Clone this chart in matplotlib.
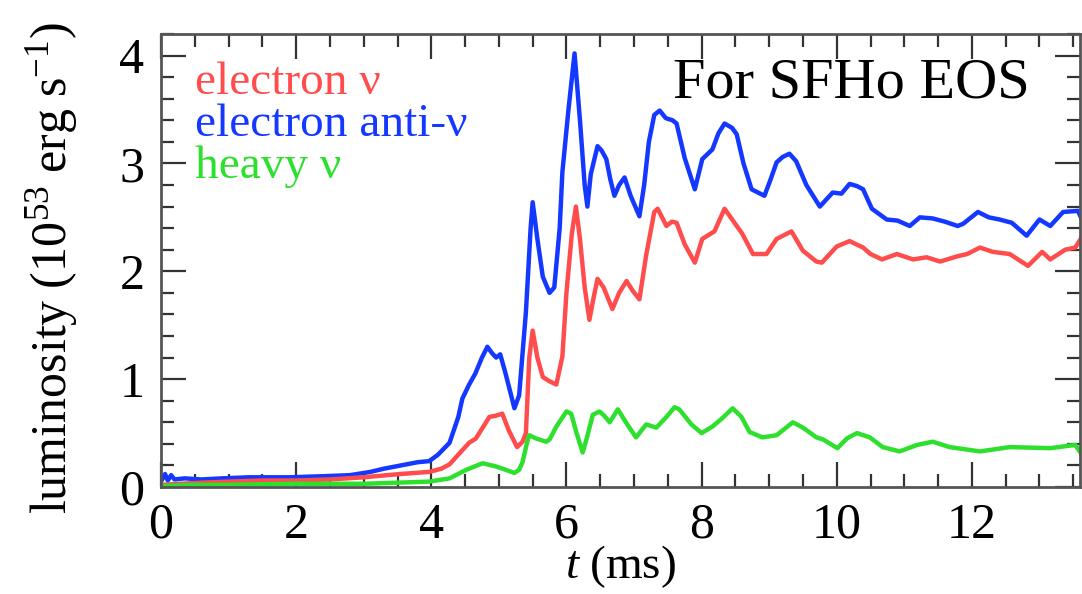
import matplotlib
matplotlib.use("Agg")
import matplotlib.pyplot as plt
from matplotlib.ticker import MultipleLocator

plt.rcParams["font.family"] = ["Liberation Serif", "DejaVu Serif"]
plt.rcParams["mathtext.fontset"] = "custom"
plt.rcParams["mathtext.rm"] = "Liberation Serif"
plt.rcParams["mathtext.it"] = "Liberation Serif:italic"

# luminosity in 1e53 erg/s, time in ms
t_blue = [0.0, 0.06, 0.1, 0.15, 0.2, 0.35, 0.6, 0.9, 1.3, 1.9, 2.4, 2.8, 3.1, 3.3,
          3.55, 3.8, 3.97, 4.1, 4.27, 4.4, 4.46, 4.56, 4.65, 4.75, 4.83, 4.9, 4.96,
          5.02, 5.1, 5.23, 5.3, 5.4, 5.47, 5.5, 5.57, 5.65, 5.75, 5.82, 5.9, 5.94,
          6.03, 6.12, 6.2, 6.27, 6.31, 6.36, 6.46, 6.52, 6.59, 6.65, 6.71, 6.78,
          6.86, 6.95, 7.08, 7.15, 7.22, 7.3, 7.38, 7.47, 7.57, 7.63, 7.75, 7.9,
          8.01, 8.16, 8.25, 8.34, 8.45, 8.52, 8.62, 8.74, 8.93, 9.02, 9.11, 9.2,
          9.3, 9.4, 9.55, 9.75, 9.94, 10.07, 10.19, 10.3, 10.39, 10.52, 10.74,
          10.9, 11.08, 11.23, 11.42, 11.6, 11.79, 11.87, 12.09, 12.25, 12.41,
          12.59, 12.81, 13.0, 13.16, 13.35, 13.57, 13.65]
L_blue = [0.05, 0.12, 0.06, 0.11, 0.07, 0.08, 0.07, 0.08, 0.09, 0.09, 0.10, 0.11, 0.14, 0.17,
          0.20, 0.23, 0.24, 0.30, 0.41, 0.65, 0.82, 0.95, 1.05, 1.20, 1.30, 1.24, 1.20,
          1.23, 1.05, 0.73, 0.85, 1.62, 2.40, 2.64, 2.30, 1.95, 1.80, 1.85, 2.40, 2.92,
          3.50, 4.02, 3.40, 2.80, 2.60, 2.90, 3.16, 3.12, 3.04, 2.85, 2.70, 2.80,
          2.87, 2.70, 2.51, 2.80, 3.20, 3.45, 3.49, 3.42, 3.40, 3.37, 3.05, 2.76,
          3.04, 3.13, 3.28, 3.37, 3.33, 3.27, 3.00, 2.76, 2.70, 2.85, 3.01, 3.06,
          3.09, 3.02, 2.80, 2.60, 2.73, 2.72, 2.81, 2.79, 2.76, 2.58, 2.48,
          2.47, 2.42, 2.50, 2.49, 2.46, 2.42, 2.44, 2.55, 2.50, 2.48,
          2.45, 2.33, 2.48, 2.42, 2.55, 2.56, 2.45]

t_red = [0.0, 0.3, 0.6, 1.0, 1.5, 2.0, 2.5, 3.0, 3.53, 3.97, 4.15, 4.27, 4.4, 4.56,
         4.66, 4.76, 4.86, 4.95, 5.05, 5.15, 5.27, 5.35, 5.4, 5.45, 5.5, 5.57, 5.65,
         5.75, 5.85, 5.94, 6.0, 6.08, 6.14, 6.2, 6.27, 6.34, 6.4, 6.46, 6.55, 6.68,
         6.78, 6.89, 6.98, 7.08, 7.18, 7.3, 7.35, 7.48, 7.56, 7.63, 7.75, 7.9, 8.01,
         8.19, 8.34, 8.52, 8.6, 8.76, 8.96, 9.11, 9.33, 9.5, 9.7, 9.78, 10.0, 10.19,
         10.39, 10.5, 10.67, 10.89, 11.13, 11.33, 11.53, 11.79, 11.93, 12.12, 12.31,
         12.56, 12.83, 13.04, 13.16, 13.38, 13.53, 13.65]
L_red = [0.02, 0.03, 0.04, 0.05, 0.06, 0.06, 0.07, 0.09, 0.12, 0.14, 0.17, 0.21, 0.30, 0.41,
         0.45, 0.55, 0.65, 0.66, 0.68, 0.52, 0.37, 0.42, 0.50, 1.20, 1.45, 1.20, 1.02,
         0.98, 0.95, 1.21, 1.80, 2.35, 2.60, 2.30, 1.85, 1.55, 1.75, 1.93, 1.85, 1.65,
         1.80, 1.91, 1.82, 1.74, 2.15, 2.55, 2.58, 2.42, 2.46, 2.45, 2.25, 2.08, 2.30,
         2.37, 2.58, 2.42, 2.35, 2.16, 2.16, 2.30, 2.37, 2.19, 2.09, 2.08, 2.23, 2.28,
         2.22, 2.16, 2.11, 2.16, 2.11, 2.13, 2.09, 2.14, 2.16, 2.22, 2.18,
         2.16, 2.05, 2.18, 2.11, 2.20, 2.22, 2.34]

t_green = [0.0, 0.5, 1.0, 2.0, 3.0, 3.5, 3.97, 4.27, 4.52, 4.76, 4.96, 5.1, 5.23, 5.3,
           5.35, 5.42, 5.45, 5.55, 5.7, 5.75, 5.85, 6.0, 6.07, 6.15, 6.24, 6.3, 6.39,
           6.49, 6.56, 6.64, 6.76, 6.9, 7.03, 7.18, 7.33, 7.48, 7.6, 7.67, 7.85, 8.0,
           8.16, 8.31, 8.46, 8.59, 8.71, 8.9, 9.11, 9.35, 9.5, 9.7, 9.8, 10.01, 10.15,
           10.3, 10.49, 10.68, 10.93, 11.19, 11.42, 11.67, 12.12, 12.56, 13.16, 13.53,
           13.65]
L_green = [0.01, 0.02, 0.02, 0.03, 0.03, 0.04, 0.05, 0.08, 0.16, 0.22, 0.19, 0.16, 0.13, 0.16,
           0.23, 0.42, 0.48, 0.45, 0.42, 0.44, 0.56, 0.70, 0.68, 0.50, 0.32, 0.45, 0.67,
           0.70, 0.66, 0.60, 0.72, 0.58, 0.46, 0.58, 0.55, 0.65, 0.74, 0.72, 0.58, 0.50,
           0.56, 0.64, 0.73, 0.65, 0.51, 0.46, 0.48, 0.60, 0.55, 0.46, 0.44, 0.36, 0.45,
           0.50, 0.46, 0.37, 0.33, 0.39, 0.42, 0.37, 0.33, 0.37, 0.36, 0.39,
           0.28]

labels = ["electron \u03bd", "electron anti-\u03bd", "heavy \u03bd"]
RED, BLUE, GREEN = "#ff4d4d", "#1438ff", "#2ee02e"

fig = plt.figure(figsize=(10.82, 5.94), dpi=100)
ax = fig.add_axes([161 / 1082, 1 - 487 / 594, 919 / 1082, 453 / 594])

ax.plot(t_blue, L_blue, color=BLUE, lw=3.2)
ax.plot(t_red, L_red, color=RED, lw=3.2)
ax.plot(t_green, L_green, color=GREEN, lw=3.2)

ax.set_xlim(0, 13.6)
ax.set_ylim(0, 4.2)
ax.xaxis.set_major_locator(MultipleLocator(2))
ax.xaxis.set_minor_locator(MultipleLocator(0.5))
ax.yaxis.set_major_locator(MultipleLocator(1))
ax.yaxis.set_minor_locator(MultipleLocator(0.2))
ax.tick_params(which="both", direction="in", top=True, right=True,
               color="#333333", width=1.6, labelsize=36)
ax.tick_params(which="major", length=18)
ax.tick_params(axis="x", which="major", pad=11)
ax.tick_params(axis="y", which="major", pad=12)
ax.tick_params(which="minor", length=9.5)
for sp in ax.spines.values():
    sp.set_color("#555555")
    sp.set_linewidth(2.0)

ax.set_xlabel(r"$t\ \mathrm{(ms)}$", fontsize=34, labelpad=-4)
ax.set_ylabel(r"$\mathrm{luminosity\ (10^{53}\ erg\ s^{-1})}$", fontsize=36)
ax.yaxis.set_label_coords(-0.088, 0.483)

for i, (lab, col) in enumerate(zip(labels, [RED, BLUE, GREEN])):
    ax.text(195 / 1082, 1 - (94 + 42 * i) / 594, lab, color=col, fontsize=34,
            transform=fig.transFigure, va="baseline", ha="left")

ax.text(673 / 1082, 1 - 97 / 594, "For SFHo EOS", color="black", fontsize=42,
        transform=fig.transFigure, va="baseline", ha="left")

fig.savefig("out.png", dpi=100)
